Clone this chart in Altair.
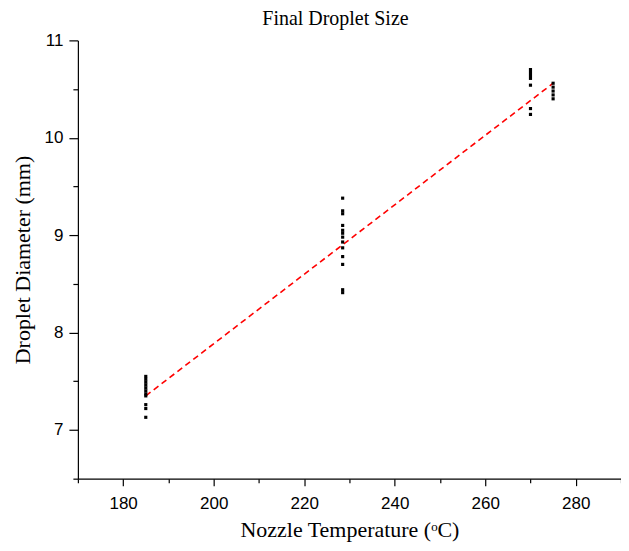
import altair as alt
import pandas as pd

# Measured droplet diameters (mm) per nozzle temperature (°C)
temps_185 = [185] * 11
diam_185 = [7.55, 7.52, 7.49, 7.46, 7.43, 7.40, 7.37, 7.35, 7.26, 7.22, 7.13]
temps_228 = [228.5] * 13
diam_228 = [9.38, 9.25, 9.22, 9.10, 9.05, 9.02, 8.98, 8.93, 8.87, 8.78, 8.70, 8.44, 8.41]
temps_270 = [270] * 7
diam_270 = [10.70, 10.67, 10.64, 10.61, 10.54, 10.30, 10.24]
temps_275 = [275] * 5
diam_275 = [10.56, 10.52, 10.48, 10.44, 10.40]

# Linear fit endpoints
fit_temp = [185, 275]
fit_diam = [7.35, 10.56]

x_ticks = [170, 180, 190, 200, 210, 220, 230, 240, 250, 260, 270, 280, 290]
y_ticks = [6.5, 7, 7.5, 8, 8.5, 9, 9.5, 10, 10.5, 11]

pts = pd.DataFrame({
    "temp": temps_185 + temps_228 + temps_270 + temps_275,
    "diam": diam_185 + diam_228 + diam_270 + diam_275,
})
fit = pd.DataFrame({"temp": fit_temp, "diam": fit_diam})

serif = "Liberation Serif"
sans = "Liberation Sans"

x_enc = alt.X(
    "temp:Q",
    scale=alt.Scale(domain=[170, 290], nice=False, zero=False),
    axis=alt.Axis(
        title="Nozzle Temperature (ᵒC)",
        values=x_ticks,
        labelExpr="datum.value % 20 == 0 ? format(datum.value, 'd') : ''",
        tickSize={"condition": {"test": "datum.value % 20 == 0", "value": 7}, "value": 4},
        labelPadding=10,
        titlePadding=8,
    ),
)
y_enc = alt.Y(
    "diam:Q",
    scale=alt.Scale(domain=[6.5, 11], nice=False, zero=False),
    axis=alt.Axis(
        title="Droplet Diameter (mm)",
        values=y_ticks,
        labelExpr="datum.value % 1 == 0 ? format(datum.value, 'd') : ''",
        tickSize={"condition": {"test": "datum.value % 1 == 0", "value": 9}, "value": 5},
        labelPadding=6,
        titlePadding=10,
    ),
)

points = alt.Chart(pts).mark_square(size=10, color="black", opacity=1).encode(x=x_enc, y=y_enc)
line = alt.Chart(fit).mark_line(color="#ff0000", strokeDash=[6, 4], strokeWidth=1.6).encode(
    x="temp:Q", y="diam:Q"
)

chart = (
    alt.layer(line, points)
    .properties(
        width=544,
        height=439,
        title=alt.TitleParams(
            "Final Droplet Size", font=serif, fontSize=20, fontWeight="normal",
            color="black", anchor="middle", offset=2, dx=-14,
        ),
        autosize=alt.AutoSizeParams(type="none"),
        padding={"left": 70, "top": 32, "right": 0, "bottom": 64},
    )
    .configure_view(stroke=None)
    .configure_axis(
        grid=False,
        domainColor="black",
        domainWidth=1.2,
        tickColor="black",
        tickWidth=1.2,
        labelFont=sans,
        labelFontSize=17,
        labelColor="black",
        titleFont=serif,
        titleFontSize=22,
        titleFontWeight="normal",
        titleColor="black",
    )
)

chart.save("out.html", embed_options={"renderer": "svg", "actions": False})
